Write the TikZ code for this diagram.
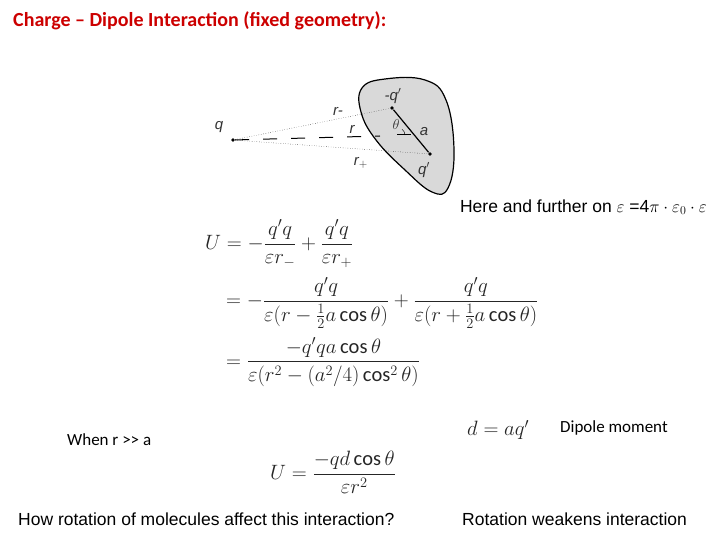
\documentclass[tikz,border=0pt]{standalone}
\usepackage{fontspec}
\setmainfont{Carlito}
\newfontfamily\arial{Liberation Sans}
\usepackage{amsmath}
\begin{document}
\begin{tikzpicture}[x=1pt,y=-1pt,
  dot/.style={circle,fill=black,inner sep=1.4pt},
  lbl/.style={font=\itshape\arial\fontsize{15}{15}\selectfont,text=black!80},
  eq/.style={anchor=west,inner sep=0pt,font=\fontsize{20.5}{24}\selectfont},
  txt/.style={anchor=west,inner sep=0pt,font=\arial\fontsize{17.5}{20}\selectfont}]
\useasboundingbox (0,0) rectangle (720,540);
\node[anchor=west,inner sep=0pt,text=red!80!black,font=\bfseries\fontsize{20}{22}\selectfont] (title) at (13,21) {Charge -- Dipole Interaction (fixed geometry):};
% blob
\draw[fill=black!15,line width=1.2pt] plot[smooth cycle,tension=0.7] coordinates {(362,88) (385,79) (425,80) (446,100) (454,150) (448,188) (432,192) (405,170) (376,140) (361,112)};
\node[dot] (q) at (233,140) {};
\node[dot] (qm) at (392,108) {};
\node[dot] (qp) at (430,154) {};
\coordinate (mid) at (380,136);
\draw[line width=1.2pt] (qm) -- (qp);
\draw[dotted] (q) -- (qm);
\draw[dotted] (q) -- (qp);
\draw[dash pattern=on 14pt off 14pt,line width=1pt] (q) -- (mid);
\draw[line width=1pt] (397,135) -- (411,135);
\draw (405,135) arc[start angle=0,end angle=-55,radius=7];
\node[lbl] (lq) at (219,127) {q};
\node[lbl] (lrm) at (338,111) {r-};
\node[lbl] (lr) at (352,129) {r};
\node[lbl] (lrp) at (361,163) {r$_+$};
\node[lbl] (lqm) at (393,96) {-q$'$};
\node[lbl] (lth) at (396,125) {$\theta$};
\node[lbl] (la) at (424,132) {a};
\node[lbl] (lqp) at (424,170) {q$'$};
\node[txt,anchor=east] (note) at (707,207) {Here and further on $\varepsilon$ =4$\pi\cdot\varepsilon_0\cdot\varepsilon$};
\node[eq,text=black!85] (e1) at (205,244) {$\displaystyle U=-\frac{q'q}{\varepsilon r_-}+\frac{q'q}{\varepsilon r_+}$};
\node[eq,text=black!85] (e2) at (226,303) {$\displaystyle =-\frac{q'q}{\varepsilon(r-\frac12 a\cos\theta)}+\frac{q'q}{\varepsilon(r+\frac12 a\cos\theta)}$};
\node[eq,text=black!85] (e3) at (226,362) {$\displaystyle =\frac{-q'qa\cos\theta}{\varepsilon(r^2-(a^2/4)\cos^2\theta)}$};
\node[anchor=west,inner sep=0pt,font=\fontsize{17}{20}\selectfont] (when) at (67,440) {When r {>}{>} a};
\node[eq,text=black!85] (e4) at (270,472) {$\displaystyle U=\frac{-qd\cos\theta}{\varepsilon r^2}$};
\node[eq,text=black!85] (e5) at (467,430) {$d=aq'$};
\node[anchor=west,inner sep=0pt,font=\fontsize{17}{20}\selectfont] (dm) at (560,428) {Dipole moment};
\node[txt] (how) at (18,519) {How rotation of molecules affect this interaction?};
\node[txt] (rot) at (462,519) {Rotation weakens interaction};
\end{tikzpicture}
\end{document}
